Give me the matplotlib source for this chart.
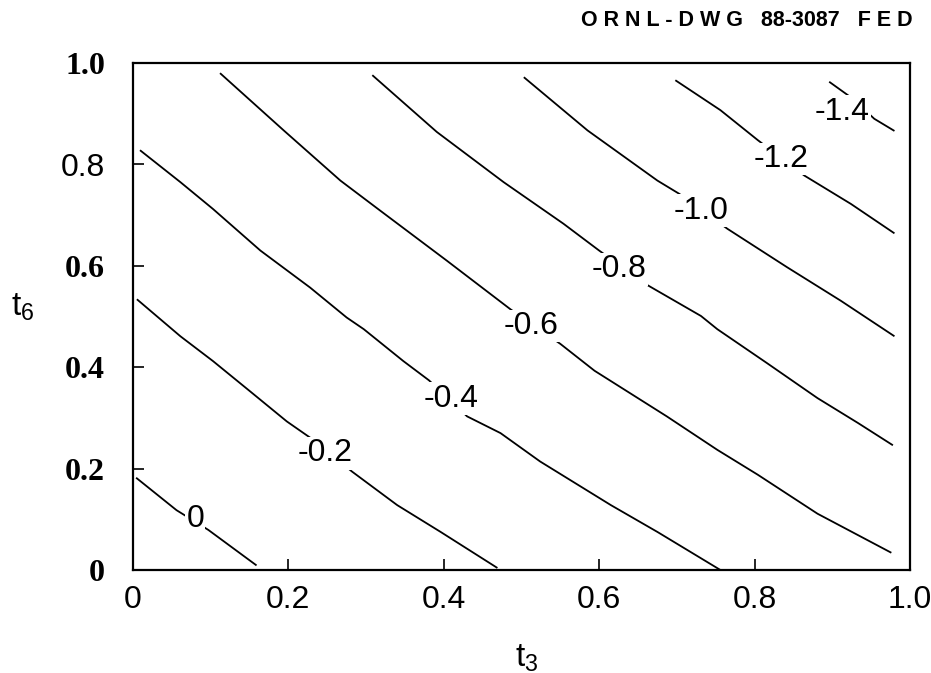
import matplotlib
matplotlib.use("Agg")
import matplotlib.pyplot as plt

plt.rcParams.update({"font.family": ["Liberation Sans", "DejaVu Sans"],
                     "mathtext.fontset": "custom",
                     "mathtext.rm": "Liberation Sans",
                     "mathtext.it": "Liberation Sans"})

# contour lines (t3, t6) for each level
levels = ["0", "-0.2", "-0.4", "-0.6", "-0.8", "-1.0", "-1.2", "-1.4"]

t3_00 = [0.004, 0.056, 0.097, 0.159]
t6_00 = [0.182, 0.118, 0.079, 0.009]

t3_02 = [0.005, 0.061, 0.103, 0.151, 0.198, 0.228, 0.282, 0.340, 0.396, 0.469]
t6_02 = [0.534, 0.461, 0.412, 0.352, 0.293, 0.261, 0.194, 0.128, 0.075, 0.004]

t3_04 = [0.009, 0.061, 0.103, 0.164, 0.228, 0.275, 0.297, 0.348, 0.381, 0.430,
         0.473, 0.524, 0.615, 0.675, 0.756]
t6_04 = [0.828, 0.765, 0.712, 0.630, 0.557, 0.498, 0.475, 0.412, 0.374, 0.303,
         0.270, 0.214, 0.128, 0.075, 0.000]

t3_06 = [0.112, 0.194, 0.267, 0.318, 0.404, 0.486, 0.550, 0.594, 0.687, 0.752,
         0.804, 0.881, 0.976]
t6_06 = [0.980, 0.867, 0.768, 0.709, 0.610, 0.514, 0.446, 0.393, 0.303, 0.237,
         0.188, 0.111, 0.034]

t3_08 = [0.308, 0.391, 0.477, 0.554, 0.600, 0.662, 0.731, 0.752, 0.816, 0.881,
         0.933, 0.978]
t6_08 = [0.976, 0.864, 0.765, 0.683, 0.630, 0.562, 0.501, 0.475, 0.408, 0.339,
         0.290, 0.246]

t3_10 = [0.503, 0.585, 0.675, 0.703, 0.765, 0.842, 0.911, 0.980]
t6_10 = [0.972, 0.867, 0.768, 0.742, 0.673, 0.597, 0.531, 0.461]

t3_12 = [0.698, 0.756, 0.804, 0.864, 0.924, 0.980]
t6_12 = [0.966, 0.907, 0.848, 0.778, 0.722, 0.664]

t3_14 = [0.896, 0.926, 0.954, 0.980]
t6_14 = [0.963, 0.930, 0.890, 0.866]

# where each level label sits
label_t3 = [0.080, 0.247, 0.409, 0.512, 0.626, 0.731, 0.834, 0.913]
label_t6 = [0.100, 0.230, 0.338, 0.481, 0.593, 0.709, 0.811, 0.904]

lines = [(t3_00, t6_00), (t3_02, t6_02), (t3_04, t6_04), (t3_06, t6_06),
         (t3_08, t6_08), (t3_10, t6_10), (t3_12, t6_12), (t3_14, t6_14)]

xticks = [0, 0.2, 0.4, 0.6, 0.8, 1.0]
xticklabels = ["0", "0.2", "0.4", "0.6", "0.8", "1.0"]
yticks = [0, 0.2, 0.4, 0.6, 0.8, 1.0]
yticklabels = ["0", "0.2", "0.4", "0.6", "0.8", "1.0"]

fig = plt.figure(figsize=(9.31, 6.73), dpi=100)
ax = fig.add_axes([133 / 931, 1 - 570 / 673, (910 - 133) / 931, (570 - 63) / 673])

for (xs, ys) in lines:
    ax.plot(xs, ys, color="black", lw=1.3, solid_capstyle="butt")

for lab, lx, ly in zip(levels, label_t3, label_t6):
    ax.text(lx, ly, lab, ha="center", va="center", fontsize=23, zorder=5,
            bbox=dict(facecolor="white", edgecolor="none", pad=1.0))

ax.set_xlim(0, 1)
ax.set_ylim(0, 1)
for side in ["top", "left", "bottom", "right"]:
    ax.spines[side].set_linewidth(1.6)

ax.set_xticks(xticks)
ax.set_xticklabels(xticklabels, fontsize=23)
ax.set_yticks(yticks)
ax.set_yticklabels(yticklabels)
ax.tick_params(axis="x", direction="in", length=8, width=1.2, pad=11)
ax.tick_params(axis="y", direction="in", length=8, width=1.2, pad=20)

for lab in ax.get_yticklabels():
    if lab.get_text() == "0.8":
        lab.set_fontfamily("Liberation Sans")
        lab.set_fontsize(23)
    else:
        lab.set_fontfamily("Liberation Serif")
        lab.set_fontweight("bold")
        lab.set_fontsize(23)

fig.text(527 / 931, 1 - 658 / 673, r"t$_{\mathrm{3}}$", fontsize=24, ha="center", va="center")
fig.text(23 / 931, 1 - 307 / 673, r"t$_{\mathrm{6}}$", fontsize=24, ha="center", va="center")

fig.text(913 / 931, 1 - 21 / 673, "O R N L - D W G   88-3087   F E D", fontsize=15.5,
         fontweight="bold", ha="right", va="center")

fig.savefig("out.png", dpi=100, facecolor="white")
